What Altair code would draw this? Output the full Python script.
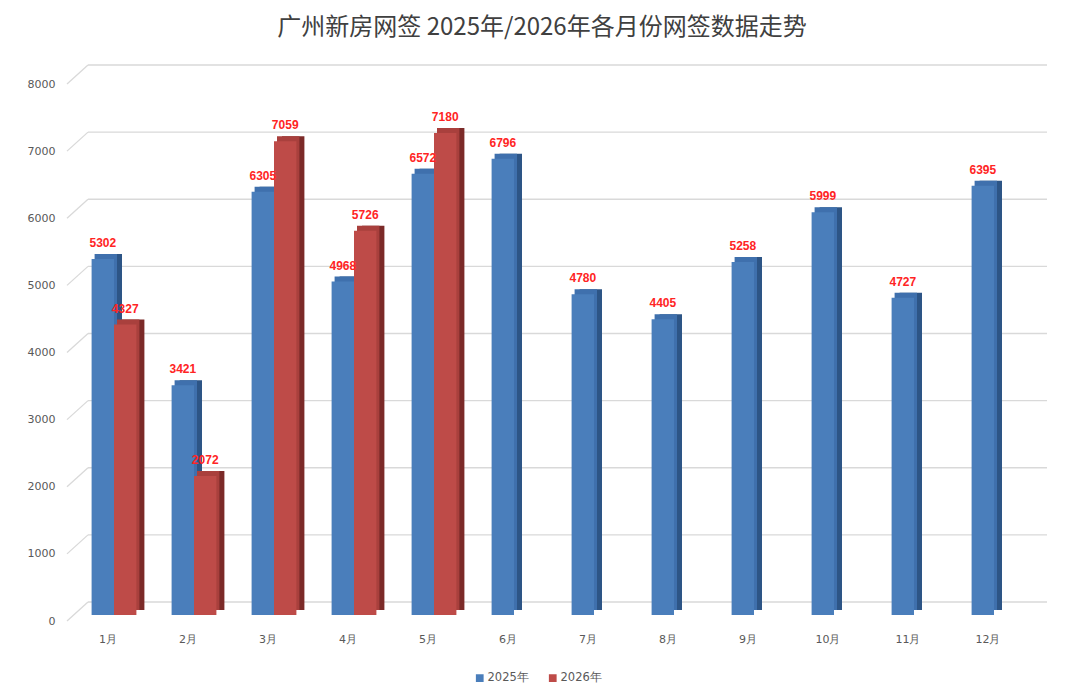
import altair as alt
import pandas as pd

months = ["1月", "2月", "3月", "4月", "5月", "6月", "7月", "8月", "9月", "10月", "11月", "12月"]
v2025 = [5302, 3421, 6305, 4968, 6572, 6796, 4780, 4405, 5258, 5999, 4727, 6395]
v2026 = [4327, 2072, 7059, 5726, 7180]
series = ["2025年", "2026年"]
ticks = [0, 1000, 2000, 3000, 4000, 5000, 6000, 7000, 8000]

rows = []
for m, v in zip(months, v2025):
    rows.append({"month": m, "series": series[0], "value": v})
for m, v in zip(months, v2026):
    rows.append({"month": m, "series": series[1], "value": v})
df = pd.DataFrame(rows)
tick_df = pd.DataFrame({"value": ticks})

BLUE, BLUE_TOP, BLUE_SIDE = "#4a7ebb", "#3f70ad", "#2d5586"
RED, RED_TOP, RED_SIDE = "#be4b48", "#a9403d", "#7b2a28"
W = 960
H = 537
BW = 22.4
SIDE = 8
TOP = 5

x_axis = alt.Axis(title=None, labelAngle=0, domain=False, ticks=False, grid=False, labelOffset=-6,
                  labelPadding=18, labelFontSize=11, labelColor="#595959", labelFont="DejaVu Sans")
y_axis = alt.Axis(title=None, values=ticks, format="d", grid=False, domain=False, ticks=False,
                  labelOffset=6, labelPadding=19, labelFontSize=11, labelColor="#595959",
                  labelFont="DejaVu Sans")
xs = alt.X("month:N", sort=months, scale=alt.Scale(paddingInner=0.44, paddingOuter=0.22), axis=x_axis)
ys = alt.Y("value:Q", scale=alt.Scale(domain=[0, 8000], nice=False), axis=y_axis)

base = alt.Chart(df)
blue = base.transform_filter(alt.datum.series == series[0])
red = base.transform_filter(alt.datum.series == series[1])

grid = alt.Chart(tick_df).mark_rule(color="#d9d9d9", strokeWidth=1.3, yOffset=-13).encode(
    x=alt.value(14), x2=alt.value(W + 13), y=ys)
diag = alt.Chart(tick_df).mark_rule(color="#d9d9d9", strokeWidth=1.3, yOffset=6, y2Offset=-13).encode(
    x=alt.value(-7), x2=alt.value(14), y=ys, y2="value:Q")

blue_side = blue.mark_bar(width=BW, color=BLUE_SIDE, xOffset=-BW / 2 + SIDE, yOffset=-TOP).encode(x=xs, y=ys)
red_side = red.mark_bar(width=BW, color=RED_SIDE, xOffset=BW / 2 + SIDE, yOffset=-TOP).encode(x=xs, y=ys)
blue_top = blue.mark_bar(width=BW, color=BLUE_TOP, xOffset=-BW / 2 + 3, yOffset=-TOP).encode(x=xs, y=ys)
red_top = red.mark_bar(width=BW, color=RED_TOP, xOffset=BW / 2 + 3, yOffset=-TOP).encode(x=xs, y=ys)

color = alt.Color("series:N", scale=alt.Scale(domain=series, range=[BLUE, RED]),
                  legend=alt.Legend(title=None, orient="none", legendX=400, legendY=594,
                                    direction="horizontal", symbolType="square", symbolSize=60,
                                    symbolStrokeWidth=0, labelFontSize=11.5, labelColor="#595959",
                                    labelFont="DejaVu Sans", columnPadding=18, labelOffset=2))
blue_front = blue.mark_bar(width=BW, xOffset=-BW / 2).encode(x=xs, y=ys, color=color)
red_front = red.mark_bar(width=BW, xOffset=BW / 2).encode(x=xs, y=ys, color=color)

txt_style = dict(color="#ff2424", fontSize=12, fontWeight="bold", font="Liberation Sans",
                 baseline="bottom", dy=-9)
blue_txt = blue.mark_text(xOffset=-BW / 2, **txt_style).encode(x=xs, y=ys, text="value:Q")
red_txt = red.mark_text(xOffset=BW / 2, **txt_style).encode(x=xs, y=ys, text="value:Q")

chart = alt.layer(
    grid, diag, blue_side, red_side, blue_top, red_top, blue_front, red_front, blue_txt, red_txt
).properties(
    width=W, height=H, background="white",
    title=alt.TitleParams("广州新房网签 2025年/2026年各月份网签数据走势", fontSize=24,
                          font="Noto Sans CJK SC", fontWeight="normal", color="#404040",
                          anchor="middle", dx=-12, offset=24),
    autosize=alt.AutoSizeParams(type="none"),
    padding={"left": 66, "top": 70, "right": 38, "bottom": 75},
).configure_view(strokeWidth=0)

chart.save("out.html", embed_options={"renderer": "svg", "actions": False})
